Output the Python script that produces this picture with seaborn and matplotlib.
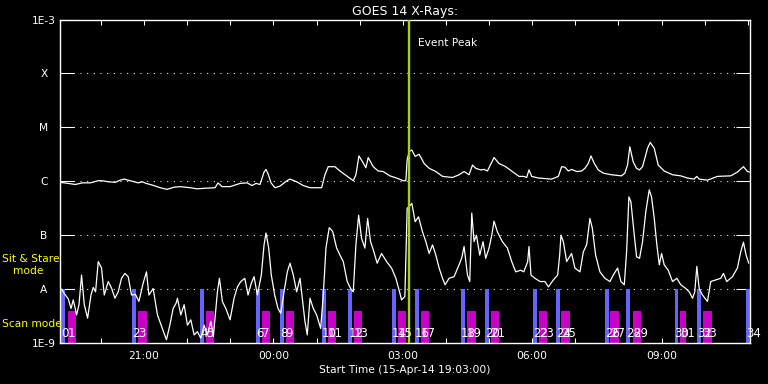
import datetime as dt

import matplotlib.dates as mdates
import matplotlib.pyplot as plt
import numpy as np
import pandas as pd
import seaborn as sns

START = dt.datetime(2014, 4, 15, 19, 3)
END = START + dt.timedelta(hours=16)

# GOES 14 long channel (1-8 A), minutes after start / log10 flux (W m^-2)
long_min = [
    0.4, 11.5, 21.3, 31.0, 42.1, 53.2, 58.8, 67.1, 76.8, 83.8,
    89.3, 97.6, 108.8, 114.3, 119.9, 128.2, 139.3, 149.0, 158.8, 167.1,
    181.0, 190.8, 201.9, 215.8, 219.9, 225.5, 236.6, 250.5, 260.3, 267.2,
    272.8, 278.3, 283.9, 286.6, 289.4, 293.6, 299.1, 306.1, 315.8, 320.0,
    329.3, 338.5, 347.8, 364.0, 368.6, 373.2, 382.5, 389.5, 398.8, 408.0,
    411.7, 415.9, 421.0, 425.6, 428.8, 435.8, 442.7, 449.6, 459.0, 468.3,
    477.4, 481.2, 483.0, 485.8, 489.5, 494.1, 499.7, 506.6, 513.6, 522.9,
    532.2, 546.1, 555.2, 562.2, 569.1, 573.9, 578.4, 585.4, 590.0, 594.7,
    603.9, 610.8, 620.1, 629.4, 638.6, 645.2, 649.3, 652.5, 656.3, 665.6,
    684.0, 693.4, 697.9, 702.5, 707.2, 711.8, 718.8, 725.7, 730.3, 735.0,
    738.7, 743.4, 748.9, 755.9, 767.4, 781.3, 785.9, 789.6, 792.8, 797.5,
    802.1, 806.3, 810.5, 817.4, 821.2, 826.8, 832.3, 840.6, 852.2, 863.7,
    873.0, 882.3, 885.9, 889.3, 900.8, 914.7, 933.2, 942.5, 950.9, 956.5,
    959.2,
]
long_log = [
    -6.02, -6.04, -6.06, -6.03, -6.03, -5.99, -5.99, -6.01, -6.02, -5.98,
    -5.96, -5.99, -6.03, -6.01, -6.04, -6.07, -6.12, -6.15, -6.11, -6.10,
    -6.12, -6.14, -6.13, -6.12, -6.03, -6.10, -6.10, -6.04, -6.03, -6.08,
    -6.04, -6.06, -5.83, -5.78, -5.86, -6.03, -6.12, -6.09, -5.99, -5.96,
    -6.01, -6.08, -6.12, -6.12, -5.88, -5.73, -5.73, -5.81, -5.90, -5.99,
    -5.88, -5.53, -5.64, -5.75, -5.56, -5.73, -5.81, -5.82, -5.90, -5.94,
    -5.99, -5.99, -5.60, -5.45, -5.42, -5.54, -5.50, -5.67, -5.76, -5.82,
    -5.91, -5.93, -5.88, -5.82, -5.88, -5.70, -5.76, -5.79, -5.78, -5.81,
    -5.56, -5.67, -5.73, -5.82, -5.91, -5.91, -5.93, -5.79, -5.91, -5.94,
    -5.96, -5.91, -5.73, -5.74, -5.81, -5.78, -5.82, -5.81, -5.76, -5.67,
    -5.53, -5.67, -5.79, -5.85, -5.88, -5.90, -5.85, -5.70, -5.36, -5.64,
    -5.76, -5.79, -5.73, -5.39, -5.28, -5.39, -5.70, -5.81, -5.88, -5.90,
    -5.94, -5.96, -5.91, -5.96, -5.98, -5.91, -5.90, -5.83, -5.73, -5.82,
    -5.83,
]

# GOES 14 short channel (0.5-4 A)
short_min = [
    2.2, 6.9, 11.5, 15.3, 18.5, 23.1, 26.4, 30.0, 33.8, 38.4,
    43.1, 46.3, 49.5, 53.2, 57.8, 61.6, 67.1, 71.7, 76.4, 81.0,
    85.6, 90.3, 94.9, 99.5, 105.0, 109.8, 115.7, 120.3, 123.7, 129.6,
    135.6, 138.9, 144.9, 148.1, 152.8, 157.4, 161.6, 163.4, 168.1, 172.7,
    177.3, 182.0, 186.6, 191.2, 195.9, 200.5, 205.1, 209.8, 213.4, 219.0,
    221.8, 225.9, 230.7, 236.6, 242.2, 246.8, 251.5, 257.1, 261.6, 266.2,
    270.0, 274.6, 280.1, 283.9, 286.6, 290.4, 294.0, 298.7, 303.3, 307.1,
    311.7, 316.3, 320.0, 324.6, 329.3, 333.9, 337.6, 340.8, 344.0, 347.8,
    352.4, 357.1, 362.7, 366.3, 370.0, 374.6, 379.3, 384.9, 389.5, 394.1,
    399.6, 404.3, 408.0, 411.7, 415.5, 419.6, 424.2, 428.0, 432.1, 435.8,
    441.3, 447.4, 454.4, 461.3, 467.3, 472.8, 475.2, 477.4, 479.8, 483.0,
    485.8, 489.5, 494.1, 498.8, 504.4, 509.0, 513.6, 518.3, 522.9, 527.5,
    532.2, 535.8, 541.3, 548.3, 555.2, 559.0, 562.2, 566.9, 570.1, 572.9,
    576.1, 579.4, 584.0, 588.6, 592.3, 596.9, 600.7, 603.9, 608.6, 615.5,
    622.5, 628.5, 634.0, 641.0, 645.2, 650.7, 652.5, 655.3, 660.8, 667.8,
    674.7, 679.5, 686.4, 692.4, 695.2, 697.0, 700.3, 704.9, 711.8, 716.4,
    723.4, 728.1, 732.7, 737.3, 740.6, 745.2, 751.2, 758.2, 765.1, 769.8,
    775.8, 780.4, 785.1, 788.3, 791.5, 794.3, 799.0, 802.2, 806.3, 810.5,
    815.1, 819.8, 823.0, 826.8, 830.4, 833.8, 837.0, 840.6, 846.2, 852.2,
    858.2, 863.7, 870.7, 875.4, 880.0, 883.2, 886.0, 889.3, 893.9, 900.8,
    905.4, 912.4, 919.3, 923.1, 927.6, 935.6, 942.5, 947.1, 950.9, 954.6,
    958.2,
]
short_log = [
    -8.00, -8.10, -8.18, -8.36, -8.20, -8.48, -8.29, -7.74, -8.29, -8.54,
    -8.11, -7.97, -8.05, -7.49, -7.61, -8.11, -7.86, -7.98, -8.17, -8.05,
    -7.80, -7.71, -7.77, -8.11, -8.10, -8.23, -7.89, -7.68, -8.11, -7.99,
    -8.48, -8.60, -8.82, -8.94, -8.67, -8.36, -8.26, -8.17, -8.48, -8.29,
    -8.67, -8.57, -8.85, -8.79, -8.91, -8.67, -8.85, -8.60, -8.88, -8.05,
    -7.80, -8.23, -8.36, -8.57, -8.17, -7.96, -7.86, -7.80, -8.11, -7.89,
    -7.77, -8.11, -7.74, -7.18, -6.96, -7.24, -7.74, -8.11, -8.36, -8.45,
    -8.05, -7.68, -7.52, -7.74, -8.05, -7.80, -8.23, -8.60, -8.85, -8.17,
    -8.36, -8.48, -8.73, -8.11, -7.24, -6.86, -6.93, -7.24, -7.37, -7.49,
    -7.86, -7.99, -8.05, -7.18, -6.63, -7.06, -7.24, -6.69, -7.12, -7.27,
    -7.52, -7.34, -7.49, -7.61, -7.80, -8.07, -8.20, -8.17, -8.14, -6.50,
    -6.47, -6.41, -6.75, -6.66, -6.94, -7.12, -7.34, -7.18, -7.37, -7.61,
    -7.80, -7.92, -7.80, -7.77, -7.55, -7.42, -7.21, -7.74, -7.86, -6.59,
    -7.12, -7.00, -7.37, -7.12, -7.43, -7.24, -7.00, -6.74, -6.94, -7.12,
    -7.24, -7.49, -7.68, -7.65, -7.68, -7.49, -7.21, -7.74, -7.80, -7.86,
    -7.86, -7.96, -7.83, -7.74, -7.37, -7.00, -7.12, -7.49, -7.34, -7.61,
    -7.68, -7.31, -7.18, -6.69, -6.87, -7.37, -7.68, -7.80, -7.86, -7.74,
    -7.61, -7.86, -7.92, -7.31, -6.29, -6.38, -7.00, -7.40, -7.43, -7.12,
    -6.56, -6.16, -6.29, -6.69, -7.18, -7.55, -7.34, -7.55, -7.65, -7.86,
    -7.80, -7.92, -7.99, -8.05, -8.17, -8.05, -7.58, -7.99, -8.11, -8.23,
    -7.86, -7.83, -7.80, -7.71, -7.86, -7.77, -7.61, -7.31, -7.13, -7.37,
    -7.52,
]

# IRIS observation windows
sit_stare_start = ['19:05', '20:43', '22:18', '23:36', '00:09', '01:07', '01:44', '02:45', '03:17',
                   '04:21', '04:54', '06:01', '06:33', '07:41', '08:11', '09:18', '09:49', '10:57']
SIT_STARE_MINUTES = 5.5
scan_start = ['19:14', '20:52', '22:26', '23:44', '00:17', '01:16', '01:52', '02:53', '03:25',
              '04:29', '05:02', '06:09', '06:40', '07:48', '08:20', '09:26', '09:57']
scan_minutes = [11.5, 12.5, 11.5, 11.5, 11.5, 11.5, 11.5, 11.5, 11.5,
                12.5, 11.5, 11.5, 12.5, 12.5, 11.5, 8.5, 12.5]
event_peak = '03:08'

flare_levels = [1e-9, 1e-8, 1e-7, 1e-6, 1e-5, 1e-4, 1e-3]
flare_labels = ['1E-9', 'A', 'B', 'C', 'M', 'X', '1E-3']

SIT_TOP = 1e-8
SCAN_TOP = 4e-9
LABEL_Y = 1.48e-9
BLUE = '#6464ff'
MAGENTA = '#c800c8'
PEAK = '#a8d400'
YELLOW = '#ffff00'
FS = 7.7


def clock(hhmm):
    """Clock string to datetime on the plotted day span."""
    h, m = (int(v) for v in hhmm.split(':'))
    day = START.date() if h >= 19 else START.date() + dt.timedelta(days=1)
    return dt.datetime(day.year, day.month, day.day, h, m)


def main():
    sns.set_style('dark')
    plt.rcParams.update({
        'font.family': ['DejaVu Sans'],
        'figure.facecolor': 'black',
        'axes.facecolor': 'black',
        'savefig.facecolor': 'black',
        'text.color': 'white',
        'axes.edgecolor': 'white',
        'axes.labelcolor': 'white',
        'xtick.color': 'white',
        'ytick.color': 'white',
    })

    df = pd.concat([
        pd.DataFrame({'minutes': long_min, 'logflux': long_log, 'channel': 'long'}),
        pd.DataFrame({'minutes': short_min, 'logflux': short_log, 'channel': 'short'}),
    ])
    df['time'] = START + pd.to_timedelta(df['minutes'], unit='min')
    df['flux'] = 10.0 ** df['logflux']

    fig = plt.figure(figsize=(7.68, 3.84), dpi=100)
    ax = fig.add_axes([60 / 768, 41 / 384, 690 / 768, 323.5 / 384])

    # observation bars
    for k, t0 in enumerate(sit_stare_start):
        x0 = mdates.date2num(clock(t0))
        ax.bar(x0, SIT_TOP - 1e-9, bottom=1e-9, width=SIT_STARE_MINUTES / 1440,
               align='edge', color=BLUE, linewidth=0, zorder=1)
        ax.text(x0, LABEL_Y, str(2 * k), color='white', fontsize=8.5,
                ha='left', va='center', zorder=4)
    for k, (t0, dur) in enumerate(zip(scan_start, scan_minutes)):
        x0 = mdates.date2num(clock(t0))
        ax.bar(x0, SCAN_TOP - 1e-9, bottom=1e-9, width=dur / 1440,
               align='edge', color=MAGENTA, linewidth=0, zorder=1)
        ax.text(x0, LABEL_Y, str(2 * k + 1), color='white', fontsize=8.5,
                ha='left', va='center', zorder=4)

    sns.lineplot(data=df, x='time', y='flux', units='channel', estimator=None,
                 color='white', linewidth=0.9, ax=ax, zorder=2, legend=False)

    peak = mdates.date2num(clock(event_peak))
    ax.axvline(peak, color=PEAK, linewidth=1.7, zorder=3)
    ax.annotate('Event Peak', xy=(peak, 1), xycoords=('data', 'axes fraction'),
                xytext=(6.5, -17), textcoords='offset points',
                color='white', fontsize=FS, ha='left', va='center')

    ax.set_yscale('log')
    ax.set_ylim(1e-9, 1e-3)
    ax.set_xlim(START, END)
    ax.set_yticks(flare_levels)
    ax.set_yticklabels(flare_labels)
    ax.yaxis.set_minor_locator(plt.NullLocator())
    for lbl in ax.get_yticklabels():
        lbl.set_horizontalalignment('center')

    ax.xaxis.set_major_locator(mdates.HourLocator(byhour=range(0, 24, 3)))
    ax.xaxis.set_minor_locator(mdates.HourLocator())
    ax.xaxis.set_major_formatter(mdates.DateFormatter('%H:%M'))

    ax.tick_params(axis='x', which='both', direction='in', top=True, bottom=True,
                   length=3.6, width=0.75, colors='white', labelsize=FS, pad=5.5)
    ax.tick_params(axis='y', which='major', direction='in', left=True, right=True,
                   length=10, width=0.75, colors='white', labelsize=FS, pad=11.5)

    ax.grid(False)
    ax.yaxis.grid(True, which='major', color='white', linestyle=(0, (1, 5.4)), linewidth=0.75)
    for spine in ax.spines.values():
        spine.set_visible(True)
        spine.set_color('white')
        spine.set_linewidth(1.0)

    ax.set_ylabel('')
    ax.set_xlabel('Start Time (15-Apr-14 19:03:00)', color='white', fontsize=FS, labelpad=3)
    ax.set_title('GOES 14 X-Rays:', color='white', fontsize=9, pad=3.5)

    fig.text(2 / 768, 1 - 258.5 / 384, 'Sit & Stare', color=YELLOW, fontsize=FS, va='center')
    fig.text(12.5 / 768, 1 - 271 / 384, 'mode', color=YELLOW, fontsize=FS, va='center')
    fig.text(2 / 768, 1 - 323.7 / 384, 'Scan mode', color=YELLOW, fontsize=FS, va='center')

    fig.savefig('out.png', dpi=100, facecolor='black')
    plt.close(fig)


if __name__ == '__main__':
    main()
